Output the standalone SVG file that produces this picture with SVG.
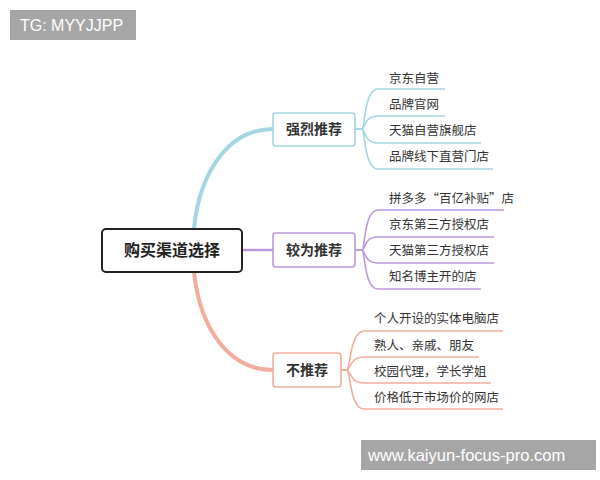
<svg xmlns="http://www.w3.org/2000/svg" width="600" height="480" viewBox="0 0 600 480">
<style>
text{font-family:"Noto Sans CJK SC","Noto Sans",sans-serif;fill:#333}
.leaf{font-size:12.5px}
.mid{font-size:14px;font-weight:bold;text-anchor:middle}
.b{stroke:#a3d6e2}.p{stroke:#bb98de}.r{stroke:#f2ad9c}
.ln{fill:none;stroke-width:1.6}
.box{fill:#fff;stroke-width:1.6}
.wm{fill:#a6a6a6}
.wt{fill:#fff;font-family:"Liberation Sans",Arial,sans-serif}
</style>
<rect width="600" height="480" fill="#fff"/>
<g id="connectors">
<path class="b" fill="none" stroke-width="4" d="M194,228 C200,170 230,129 273,129"/>
<path class="p" fill="none" stroke-width="2.5" d="M242,250 H273"/>
<path class="r" fill="none" stroke-width="4" d="M194,272 C200,330 230,370 273,370"/>
<g class="ln b">
<path d="M355,129 H362 C365,129 364,89 378,89 H445"/>
<path d="M355,129 H362 C365,129 364,116 378,116 H445"/>
<path d="M355,129 H362 C365,129 364,143 378,143 H481"/>
<path d="M355,129 H362 C365,129 364,169 378,169 H493"/>
</g>
<g class="ln p">
<path d="M355,250 H362 C365,250 364,210 378,210 H504"/>
<path d="M355,250 H362 C365,250 364,237 378,237 H494"/>
<path d="M355,250 H362 C365,250 364,263 378,263 H494"/>
<path d="M355,250 H362 C365,250 364,289 378,289 H481"/>
</g>
<g class="ln r">
<path d="M341,370 H347 C350,370 350,331 364,331 H503"/>
<path d="M341,370 H347 C350,370 350,357 364,357 H479"/>
<path d="M341,370 H347 C350,370 350,383 364,383 H491"/>
<path d="M341,370 H347 C350,370 350,409 364,409 H503"/>
</g>
</g>
<g id="root">
<rect x="102" y="229" width="140" height="43" rx="4" fill="#fff" stroke="#222" stroke-width="2"/>
<text x="172" y="256" font-size="16" font-weight="bold" text-anchor="middle" style="fill:#222">购买渠道选择</text>
</g>
<g id="strong"><rect class="box b" x="273" y="113" width="82" height="33" rx="3"/><text class="mid" x="314" y="134">强烈推荐</text></g>
<g id="medium"><rect class="box p" x="273" y="233" width="82" height="34" rx="3"/><text class="mid" x="314" y="255">较为推荐</text></g>
<g id="not"><rect class="box r" x="273" y="353" width="68" height="34" rx="3"/><text class="mid" x="307" y="375">不推荐</text></g>
<g id="leaves-strong">
<text class="leaf" x="389" y="83">京东自营</text>
<text class="leaf" x="389" y="109">品牌官网</text>
<text class="leaf" x="389" y="135">天猫自营旗舰店</text>
<text class="leaf" x="389" y="161">品牌线下直营门店</text>
</g>
<g id="leaves-medium">
<text class="leaf" x="389" y="203">拼多多“百亿补贴”店</text>
<text class="leaf" x="389" y="229">京东第三方授权店</text>
<text class="leaf" x="389" y="255">天猫第三方授权店</text>
<text class="leaf" x="389" y="281">知名博主开的店</text>
</g>
<g id="leaves-not">
<text class="leaf" x="374" y="323">个人开设的实体电脑店</text>
<text class="leaf" x="374" y="350">熟人、亲戚、朋友</text>
<text class="leaf" x="374" y="376">校园代理，学长学姐</text>
<text class="leaf" x="374" y="402">价格低于市场价的网店</text>
</g>
<g id="watermark-tg"><rect class="wm" x="10" y="10" width="126" height="30"/><text class="wt" x="20" y="31" font-size="16">TG: MYYJJPP</text></g>
<g id="watermark-url"><rect class="wm" x="361" y="440" width="235" height="30"/><text class="wt" x="368" y="461" font-size="16.5">www.kaiyun-focus-pro.com</text></g>
</svg>
